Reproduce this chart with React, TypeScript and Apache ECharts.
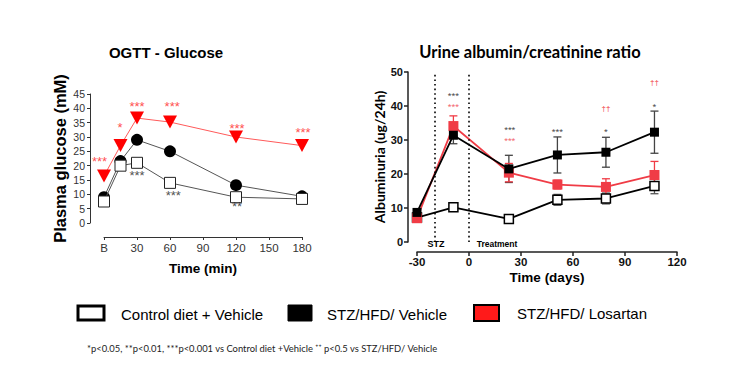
import React, { useEffect, useRef } from "react";
import * as echarts from "echarts";

// ---- OGTT glucose (left) ----
const glucoseTimes = [0, 15, 30, 60, 120, 180];
const glucoseTickLabels: Record<number, string> = { 0: "B" };
const glucoseControl = [7.5, 20, 21, 14, 9, 8.4];
const glucoseStzVehicle = [9, 21.6, 29, 25, 13.2, 9.3];
const glucoseStzLosartan = [16.4, 27, 36.6, 35.2, 30, 27];
// significance marks [x, y, text]
const glucoseRedMarks: [number, number, string][] = [
  [-4, 22.7, "***"], [14.5, 34.5, "*"], [30, 41.8, "***"], [62, 41.8, "***"], [121, 34.2, "***"], [181, 32.8, "***"],
];
const glucoseBlackMarks: [number, number, string][] = [
  [30, 17.8, "***"], [63, 10.8, "***"], [121, 7, "**"],
];

// ---- Urine albumin/creatinine (right) ----
const albDays = [-30, -9, 23, 51, 79, 107];
const albControl = [7.2, 10.2, 6.8, 12.4, 12.8, 16.5];
const albControlErr = [0.5, 1.2, 0.5, 1.6, 1.6, 2.3];
const albStzVehicle = [8.7, 31.4, 21.5, 25.6, 26.4, 32.3];
const albStzVehicleErr = [0.8, 2.5, 4, 5.3, 4.4, 6.2];
const albStzLosartan = [7, 34.1, 20.4, 16.9, 16.2, 19.7];
const albStzLosartanErr = [0.8, 3, 2.7, 1.3, 2.4, 4];
const phaseDays = [-20, 0];
const albBlackMarks: [number, number, string][] = [
  [-9, 44.0, "***"], [23.5, 34.0, "***"], [51, 33.2, "***"], [79, 33.2, "*"], [107, 40.6, "*"],
];
const albRedMarks: [number, number, string][] = [
  [-9, 40.7, "***"], [23.5, 30.7, "***"],
];
const albRedDaggers: [number, number, string][] = [
  [79, 39.3, "††"], [107, 47, "††"],
];

const legendNames = ["Control diet + Vehicle", "STZ/HFD/ Vehicle", "STZ/HFD/ Losartan"];
const footnote = "*p<0.05, **p<0.01, ***p<0.001 vs Control diet +Vehicle ⁺⁺ p<0.5 vs STZ/HFD/ Vehicle";

const RED = "#f03c46";
const ARIAL = "Liberation Sans, Arial, sans-serif";
const CAL = "Lato, Carlito, sans-serif";

function errorBarSeries(days: number[], vals: number[], errs: number[], color: string) {
  return {
    type: "custom",
    xAxisIndex: 1,
    yAxisIndex: 1,
    z: 1,
    encode: { x: 0, y: 1 },
    data: days.map((d, i) => [d, vals[i], errs[i]]),
    renderItem: (params: any, api: any) => {
      const x = api.value(0), y = api.value(1), e = api.value(2);
      const top = api.coord([x, y + e]);
      const bot = api.coord([x, y - e]);
      const w = 4;
      const style = { stroke: color, lineWidth: 1.3 };
      return {
        type: "group",
        children: [
          { type: "line", shape: { x1: top[0], y1: top[1], x2: bot[0], y2: bot[1] }, style },
          { type: "line", shape: { x1: top[0] - w, y1: top[1], x2: top[0] + w, y2: top[1] }, style },
          { type: "line", shape: { x1: bot[0] - w, y1: bot[1], x2: bot[0] + w, y2: bot[1] }, style },
        ],
      };
    },
  };
}

function markSeries(marks: any[], color: string, axis: number, fontSize: number, offsetY: number, bold = false, lineHeight?: number) {
  return {
    type: "scatter",
    xAxisIndex: axis,
    yAxisIndex: axis,
    z: 5,
    clip: false,
    silent: true,
    symbolSize: 1,
    itemStyle: { color: "rgba(0,0,0,0)" },
    data: marks,
    label: {
      show: true,
      position: "inside",
      formatter: (p: any) => p.data[2],
      color,
      fontSize,
      lineHeight: lineHeight ?? fontSize,
      fontFamily: ARIAL,
      fontWeight: bold ? "bold" : "normal",
      textBorderWidth: 0,
      offset: [0, offsetY],
    },
  };
}

export default function App() {
  const ref = useRef<HTMLDivElement>(null);
  useEffect(() => {
    if (!ref.current) return;
    const chart = echarts.init(ref.current, null, { renderer: "svg" });
    const option: any = {
      animation: false,
      backgroundColor: "#fff",
      grid: [
        { left: 104, top: 94, width: 198, height: 129 },
        { left: 417, top: 72, width: 260, height: 170 },
      ],
      xAxis: [
        {
          type: "value", gridIndex: 0, min: 0, max: 180, interval: 30, offset: 14,
          axisLine: { show: true, onZero: false, lineStyle: { color: "#333", width: 1 } },
          axisTick: { show: true, length: 3, lineStyle: { color: "#333" } },
          axisLabel: { formatter: (v: number) => glucoseTickLabels[v] ?? String(v), fontSize: 11.5, fontFamily: ARIAL, color: "#333", margin: 5, showMinLabel: true, showMaxLabel: true, hideOverlap: false },
          splitLine: { show: false },
          name: "Time (min)", nameLocation: "middle", nameGap: 24,
          nameTextStyle: { fontSize: 13.5, fontWeight: "bold", fontFamily: ARIAL, color: "#000" },
        },
        {
          type: "value", gridIndex: 1, min: -30, max: 120, interval: 30, offset: 10,
          axisLine: { show: true, onZero: false, lineStyle: { color: "#222", width: 1.5 } },
          axisTick: { show: true, length: 4, lineStyle: { color: "#222", width: 1.5 } },
          axisLabel: { fontSize: 11.5, fontWeight: "bold", fontFamily: ARIAL, color: "#111", margin: 4, showMinLabel: true, showMaxLabel: true, hideOverlap: false },
          splitLine: { show: false },
          name: "Time (days)", nameLocation: "middle", nameGap: 18,
          nameTextStyle: { fontSize: 13.5, fontWeight: "bold", fontFamily: ARIAL, color: "#000" },
        },
      ],
      yAxis: [
        {
          type: "value", gridIndex: 0, min: 0, max: 45, interval: 5, offset: 14,
          axisLine: { show: true, onZero: false, lineStyle: { color: "#333", width: 1 } },
          axisTick: { show: true, length: 3, lineStyle: { color: "#333" } },
          axisLabel: { fontSize: 10.5, fontFamily: ARIAL, color: "#333", margin: 5, showMinLabel: true, showMaxLabel: true, hideOverlap: false },
          splitLine: { show: false },
          name: "Plasma glucose (mM)", nameLocation: "middle", nameGap: 22,
          nameTextStyle: { fontSize: 16.5, fontWeight: "bold", fontFamily: ARIAL, color: "#000" },
        },
        {
          type: "value", gridIndex: 1, min: 0, max: 50, interval: 10, offset: 9,
          axisLine: { show: true, onZero: false, lineStyle: { color: "#222", width: 1.5 } },
          axisTick: { show: true, length: 4, lineStyle: { color: "#222", width: 1.5 } },
          axisLabel: { fontSize: 11, fontWeight: "bold", fontFamily: ARIAL, color: "#111", margin: 5, showMinLabel: true, showMaxLabel: true, hideOverlap: false },
          splitLine: { show: false },
          name: "Albuminuria (ug/24h)", nameLocation: "middle", nameGap: 20,
          nameTextStyle: { fontSize: 14, fontWeight: "bold", fontFamily: CAL, color: "#000" },
        },
      ],
      series: [
        // left
        {
          type: "line", xAxisIndex: 0, yAxisIndex: 0, z: 2,
          data: glucoseTimes.map((t, i) => [t, glucoseStzVehicle[i]]),
          symbol: "circle", symbolSize: 12,
          itemStyle: { color: "#000" },
          lineStyle: { color: "#555", width: 1 },
        },
        {
          type: "line", xAxisIndex: 0, yAxisIndex: 0, z: 3,
          data: glucoseTimes.map((t, i) => [t, glucoseControl[i]]),
          symbol: "rect", symbolSize: 11,
          itemStyle: { color: "#fff", borderColor: "#222", borderWidth: 1 },
          lineStyle: { color: "#555", width: 1 },
        },
        {
          type: "line", xAxisIndex: 0, yAxisIndex: 0, z: 4,
          data: glucoseTimes.map((t, i) => [t, glucoseStzLosartan[i]]),
          symbol: "triangle", symbolRotate: 180, symbolSize: [14, 13],
          itemStyle: { color: "#ff0000" },
          lineStyle: { color: "#ff5a5a", width: 1 },
        },
        markSeries(glucoseRedMarks, "#ff2020", 0, 13, 3.5),
        markSeries(glucoseBlackMarks, "#222", 0, 13, 3.5),
        // right
        errorBarSeries(albDays, albControl, albControlErr, "#555"),
        errorBarSeries(albDays, albStzVehicle, albStzVehicleErr, "#444"),
        errorBarSeries(albDays, albStzLosartan, albStzLosartanErr, RED),
        {
          type: "line", xAxisIndex: 1, yAxisIndex: 1, z: 2,
          data: albDays.map((d, i) => [d, albControl[i]]),
          symbol: "rect", symbolSize: 9,
          itemStyle: { color: "#fff", borderColor: "#000", borderWidth: 1.5 },
          lineStyle: { color: "#000", width: 1.8 },
          markLine: {
            silent: true, symbol: ["none", "none"], label: { show: false },
            lineStyle: { type: [1.6, 3], color: "#000", width: 1.6 },
            data: phaseDays.map((d) => ({ xAxis: d })),
          },
        },
        {
          type: "line", xAxisIndex: 1, yAxisIndex: 1, z: 3,
          data: albDays.map((d, i) => [d, albStzLosartan[i]]),
          symbol: "rect", symbolSize: 10,
          itemStyle: { color: RED },
          lineStyle: { color: RED, width: 1.8 },
        },
        {
          type: "line", xAxisIndex: 1, yAxisIndex: 1, z: 4,
          data: albDays.map((d, i) => [d, albStzVehicle[i]]),
          symbol: "rect", symbolSize: 9,
          itemStyle: { color: "#000" },
          lineStyle: { color: "#000", width: 1.8 },
        },
        markSeries(albBlackMarks, "#111", 1, 9.5, 2.8),
        markSeries(albRedMarks, RED, 1, 9.5, 2.8),
        markSeries(albRedDaggers, RED, 1, 8, 0, true),
      ],
      graphic: [
        { type: "text", x: 166, y: 52, style: { text: "OGTT - Glucose", font: `bold 15px ${ARIAL}`, fill: "#000", textAlign: "center", textVerticalAlign: "middle" } },
        { type: "text", x: 530, y: 52, style: { text: "Urine albumin/creatinine ratio", font: `bold 16.5px ${CAL}`, fill: "#000", textAlign: "center", textVerticalAlign: "middle" } },
        { type: "text", x: 436, y: 244, style: { text: "STZ", font: `bold 9px ${ARIAL}`, fill: "#000", textAlign: "center", textVerticalAlign: "middle" } },
        { type: "text", x: 497, y: 244, style: { text: "Treatment", font: `bold 8.5px ${ARIAL}`, fill: "#000", textAlign: "center", textVerticalAlign: "middle" } },
        { type: "rect", shape: { x: 78, y: 306, width: 26, height: 14 }, style: { fill: "#fff", stroke: "#000", lineWidth: 3 } },
        { type: "text", x: 121, y: 314, style: { text: legendNames[0], font: `15px ${ARIAL}`, fill: "#000", textVerticalAlign: "middle" } },
        { type: "rect", shape: { x: 288, y: 305, width: 24, height: 16 }, style: { fill: "#000", stroke: "#000", lineWidth: 1 } },
        { type: "text", x: 327, y: 314, style: { text: legendNames[1], font: `15px ${ARIAL}`, fill: "#000", textVerticalAlign: "middle" } },
        { type: "rect", shape: { x: 474, y: 305, width: 25, height: 16 }, style: { fill: "#ff1a1a", stroke: "#000", lineWidth: 2 } },
        { type: "text", x: 517, y: 313, style: { text: legendNames[2], font: `15px ${ARIAL}`, fill: "#000", textVerticalAlign: "middle" } },
        { type: "text", x: 87, y: 348, style: { text: footnote, font: `9.4px ${CAL}`, fill: "#222", textVerticalAlign: "middle" } },
      ],
    };
    chart.setOption(option);
    return () => chart.dispose();
  }, []);
  return <div ref={ref} style={{ position: "fixed", left: 0, top: 0, width: 746, height: 384 }} />;
}
